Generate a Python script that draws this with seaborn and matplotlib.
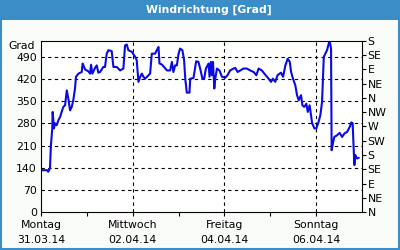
import matplotlib
matplotlib.use("Agg")
import matplotlib.pyplot as plt
import seaborn as sns
import pandas as pd
from matplotlib.patches import Rectangle

# hours since 31.03.14 00:00
hours = [0, 3.3, 3.8, 4.7, 5.2, 5.9, 6.1, 6.8, 7.3, 8.2, 9.1, 10.0, 10.8, 11.7, 12.6,
         13.5, 14.3, 15.2, 16.1, 16.9, 17.8, 18.3, 19.6, 21.3, 21.8, 23.1, 24.8, 25.7,
         26.2, 26.9, 28.3, 29.2, 30.0, 30.9, 32.6, 33.5, 34.4, 35.3, 37.0, 37.9, 39.7,
         41.4, 43.1, 44.0, 44.9, 45.7, 47.5, 49.3, 50.1, 51.0, 51.9, 52.8, 53.6, 54.5,
         57.1, 58.0, 59.7, 60.6, 61.5, 62.0, 63.2, 64.4, 65.9, 67.6, 68.5, 69.3, 70.2,
         71.1, 72.0, 72.8, 74.0, 74.9, 75.5, 76.3, 77.7, 78.1, 79.8, 81.2, 82.4, 83.3,
         84.5, 85.4, 86.3, 87.7, 88.2, 88.9, 89.4, 90.0, 90.7, 91.2, 92.1, 93.4, 94.7,
         96.4, 97.6, 99.0, 100.8, 101.7, 102.9, 104.3, 106.0, 107.8, 109.5, 111.3,
         112.7, 113.9, 115.6, 116.9, 118.3, 119.7, 120.4, 121.4, 122.6, 123.8, 125.6,
         126.7, 127.9, 129.1, 130.2, 130.9, 131.9, 133.1, 134.0, 134.9, 136.1, 136.8,
         137.8, 138.9, 139.6, 140.6, 141.3, 141.9, 143.1, 144.1, 145.3, 146.2, 147.1,
         148.0, 148.8, 149.7, 150.6, 151.1, 151.8, 152.1, 152.9, 153.5, 154.9, 156.3,
         157.6, 158.8, 160.2, 161.6, 162.4, 163.1, 163.6, 164.0, 164.5, 165.4, 166.3]
direction = [132, 132, 127, 138, 211, 264, 316, 264, 280, 274, 290, 300, 316, 332, 337,
             384, 358, 321, 332, 353, 390, 427, 437, 442, 469, 450, 444, 437,
             465, 437, 455, 463, 440, 442, 458, 458, 500, 511, 508, 458, 458,
             447, 453, 526, 529, 511, 506, 490, 479, 411, 427, 437, 427, 421,
             437, 500, 500, 511, 521, 469, 466, 458, 447, 447, 474, 442, 463,
             463, 500, 516, 511, 479, 421, 377, 377, 421, 423, 476, 474, 453,
             421, 421, 453, 469, 427, 474, 432, 474, 390, 421, 453, 447, 427,
             424, 432, 447, 453, 455, 442, 447, 453, 453, 447, 442,
             432, 453, 447, 437, 427, 416, 411, 421, 411, 432, 440,
             427, 463, 484, 474, 442, 421, 400, 369, 353, 369, 337,
             332, 342, 316, 337, 306, 280, 264, 264, 285, 306, 348,
             490, 500, 511, 532, 539, 516, 195, 221, 237, 242, 250,
             237, 248, 253, 269, 283, 280, 211, 148, 180, 169, 171]

y_ticks = [0, 70, 140, 210, 280, 350, 420, 490]
dir_ticks = [0, 45, 90, 135, 180, 225, 270, 315, 360, 405, 450, 495, 540]
dir_labels = ["N", "NE", "E", "SE", "S", "SW", "W", "NW", "N", "NE", "E", "SE", "S"]
x_ticks = [0, 48, 96, 144]
x_minor = [24, 72, 120]
x_labels = ["Montag\n31.03.14", "Mittwoch\n02.04.14", "Freitag\n04.04.14", "Sonntag\n06.04.14"]

sns.set_theme(style="white")
plt.rcParams["font.family"] = ["DejaVu Sans"]

df = pd.DataFrame({"h": hours, "dir": direction})

fig = plt.figure(figsize=(4, 2.5), dpi=100)
fig.patch.set_facecolor("#fafcfa")
blue = "#3a8dc6"
fig.patches.append(Rectangle((0, 0.92), 1, 0.08, transform=fig.transFigure,
                             facecolor=blue, edgecolor="none", zorder=0))
fig.patches.append(Rectangle((0.002, 0.003), 0.995, 0.994, transform=fig.transFigure,
                             facecolor="none", edgecolor=blue, linewidth=1.5, zorder=5))
fig.text(0.523, 0.961, "Windrichtung [Grad]", color="white", fontsize=7.8,
         fontweight="bold", ha="center", va="center")

ax = fig.add_axes([0.1025, 0.152, 0.8025, 0.684])
ax.set_facecolor("white")
sns.lineplot(data=df, x="h", y="dir", ax=ax, color="#0a0ae6", linewidth=1.5)
ax.set_xlim(0, 168)
ax.set_ylim(0, 540)
ax.set_xlabel("")
ax.set_ylabel("")
ax.set_yticks(y_ticks)
ax.set_yticklabels([str(v) for v in y_ticks], fontsize=7.8, color="black")
ax.set_xticks(x_ticks)
ax.set_xticklabels(x_labels, fontsize=7.8, color="black", linespacing=1.55)
ax.set_xticks(x_minor, minor=True)
ax.tick_params(axis="x", which="both", direction="out", length=3, width=0.8,
               color="black", bottom=True, pad=3)
ax.tick_params(axis="y", which="both", direction="out", length=0, pad=3)
for s in ax.spines.values():
    s.set_color("black")
    s.set_linewidth(0.8)
for v in y_ticks[1:]:
    ax.axhline(v, color="black", linestyle=(0, (3, 3)), linewidth=0.8, zorder=1)
for v in x_ticks[1:]:
    ax.axvline(v, color="black", linestyle=(0, (3, 3)), linewidth=0.8, zorder=1)
ax.text(-0.02, 523, "Grad", transform=ax.get_yaxis_transform(), ha="right",
        va="center", fontsize=7.8, color="black")

ax2 = ax.twinx()
ax2.set_ylim(0, 540)
ax2.set_yticks(dir_ticks)
ax2.set_yticklabels(dir_labels, fontsize=7.8, color="black")
ax2.tick_params(axis="y", direction="out", length=3, width=0.8, color="black",
                right=True, pad=1)
for s in ax2.spines.values():
    s.set_visible(False)

fig.savefig("out.png", dpi=100, facecolor=fig.get_facecolor())
